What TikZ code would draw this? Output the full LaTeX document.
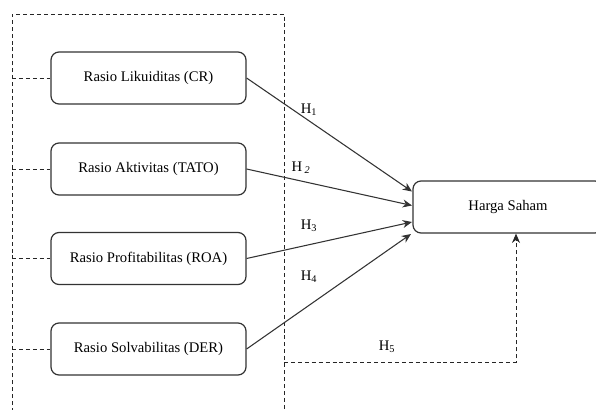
\documentclass[tikz,border=0pt]{standalone}
\usepackage{fontspec}
\setmainfont{Liberation Serif}
\usetikzlibrary{arrows.meta}
\begin{document}
\begin{tikzpicture}[x=0.75pt,y=-0.75pt,
  varbox/.style={draw=black!80,line width=0.9pt,rounded corners=6pt,minimum width=195*0.75pt,minimum height=52*0.75pt,inner sep=0pt,font=\fontsize{11}{13}\selectfont},
  frame/.style={draw=black!85,line width=0.7pt,dash pattern=on 3pt off 2.2pt},
  hyp/.style={draw=black!80,line width=0.8pt,-{Stealth[length=7pt,width=6pt]}},
  lbl/.style={font=\fontsize{11}{13}\selectfont,inner sep=0pt}]
\useasboundingbox (0,0) rectangle (596,410);
\clip (0,0) rectangle (596,410);
% boxes
\node[varbox] (cr)   at (148.5,78)  {Rasio Likuiditas (CR)};
\node[varbox] (tato) at (148.5,169) {Rasio Aktivitas (TATO)};
\node[varbox] (roa)  at (148.5,258.5) {Rasio Profitabilitas (ROA)};
\node[varbox] (der)  at (148.5,349) {Rasio Solvabilitas (DER)};
\node[varbox,minimum width=190*0.75pt] (hs) at (508,207) {Harga Saham};
% frame
\coordinate (fbl) at (12,412);
\coordinate (ftl) at (12,14);
\coordinate (ftr) at (284,14);
\coordinate (fbr) at (284,412);
\draw[frame] (fbl) -- (ftl) -- (ftr) -- (fbr);
\coordinate (s1) at (12,78);
\coordinate (s2) at (12,169);
\coordinate (s3) at (12,258.5);
\coordinate (s4) at (12,349);
\draw[frame] (s1) -- (cr.west);
\draw[frame] (s2) -- (tato.west);
\draw[frame] (s3) -- (roa.west);
\draw[frame] (s4) -- (der.west);
% arrow targets
\coordinate (t1) at (412,191.5);
\coordinate (t2) at (412,205.5);
\coordinate (t3) at (412,222);
\coordinate (t4) at (411,234);
\draw[hyp] (cr.east) -- (t1);
\draw[hyp] (tato.east) -- (t2);
\draw[hyp] (roa.east) -- (t3);
\draw[hyp] (der.east) -- (t4);
% H5
\coordinate (h5a) at (284,362);
\coordinate (h5b) at (516,362);
\draw[frame,-{Stealth[length=7pt,width=6pt]}] (h5a) -- (h5b) -- (hs.south -| h5b);
% labels
\node[lbl] (l1) at (309,110) {H\textsubscript{1}};
\node[lbl] (l2) at (301,168) {H\,\textsubscript{\textit{2}}};
\node[lbl] (l3) at (309,226) {H\textsubscript{3}};
\node[lbl] (l4) at (309,277) {H\textsubscript{4}};
\node[lbl] (l5) at (387,347) {H\textsubscript{5}};
\end{tikzpicture}
\end{document}
